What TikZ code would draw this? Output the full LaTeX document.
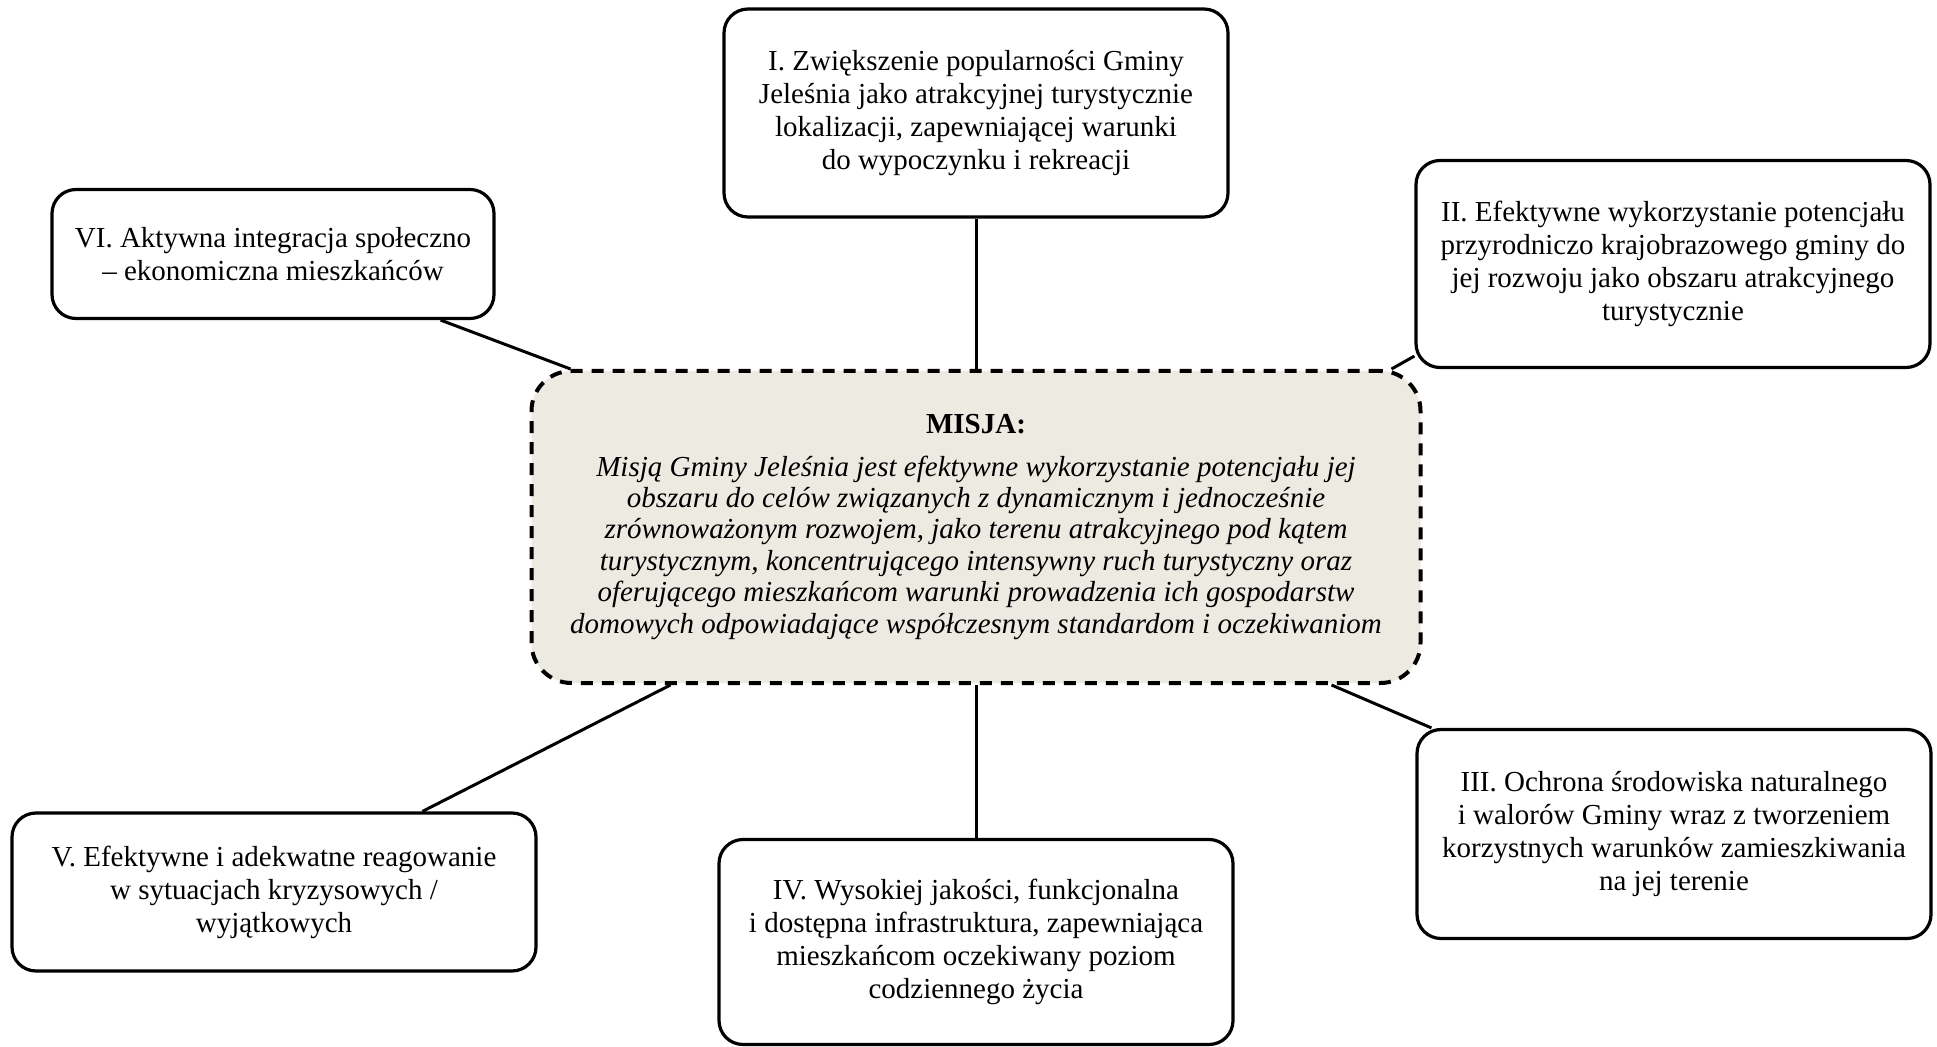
\documentclass[tikz,border=0pt]{standalone}
\usepackage{fontspec}
\setmainfont{Liberation Serif}
\usetikzlibrary{calc}
\definecolor{tlomisji}{RGB}{236,234,225}
\begin{document}
\begin{tikzpicture}[x=0.5pt,y=-0.5pt,
	cel/.style={draw,line width=1.6pt,rounded corners=12pt,fill=white,align=center,inner sep=0pt,font=\fontsize{14.5}{16.5}\selectfont},
	misja/.style={draw,line width=2pt,dash pattern=on 6pt off 4.5pt,rounded corners=20pt,fill=tlomisji,align=center,inner sep=0pt,font=\fontsize{14.5}{15.7}\selectfont},
	polacz/.style={line width=1.5pt}]
	\useasboundingbox (0,0) rectangle (1937,1047);
	% misja
	\node[misja,minimum width=444.5pt,minimum height=156pt] (misja) at (976,527)
		{\textbf{MISJA:}\\[5.5pt]
		\itshape Misją Gminy Jeleśnia jest efektywne wykorzystanie potencjału jej\\
		\itshape obszaru do celów związanych z dynamicznym i jednocześnie\\
		\itshape zrównoważonym rozwojem, jako terenu atrakcyjnego pod kątem\\
		\itshape turystycznym, koncentrującego intensywny ruch turystyczny oraz\\
		\itshape oferującego mieszkańcom warunki prowadzenia ich gospodarstw\\
		\itshape domowych odpowiadające współczesnym standardom i oczekiwaniom};
	% cele
	\node[cel,minimum width=252pt,minimum height=104pt] (cel1) at (976,113)
		{I. Zwiększenie popularności Gminy\\ Jeleśnia jako atrakcyjnej turystycznie\\ lokalizacji, zapewniającej warunki\\ do wypoczynku i rekreacji};
	\node[cel,minimum width=257pt,minimum height=103.5pt] (cel2) at (1673,264)
		{II. Efektywne wykorzystanie potencjału\\ przyrodniczo krajobrazowego gminy do\\ jej rozwoju jako obszaru atrakcyjnego\\ turystycznie};
	\node[cel,minimum width=257pt,minimum height=104.5pt] (cel3) at (1674,834)
		{III. Ochrona środowiska naturalnego\\ i walorów Gminy wraz z tworzeniem\\ korzystnych warunków zamieszkiwania\\ na jej terenie};
	\node[cel,minimum width=257pt,minimum height=102.5pt] (cel4) at (976,942)
		{IV. Wysokiej jakości, funkcjonalna\\ i dostępna infrastruktura, zapewniająca\\ mieszkańcom oczekiwany poziom\\ codziennego życia};
	\node[cel,minimum width=262pt,minimum height=79pt] (cel5) at (274,892)
		{V. Efektywne i adekwatne reagowanie\\ w sytuacjach kryzysowych /\\ wyjątkowych};
	\node[cel,minimum width=221pt,minimum height=64.5pt] (cel6) at (273,254)
		{VI. Aktywna integracja społeczno\\ – ekonomiczna mieszkańców};
	% polaczenia
	\draw[polacz] (cel1) -- (misja);
	\draw[polacz] (misja) -- (cel4);
	\draw[polacz] ($(cel2.south west)+(0,-13)$) -- ($(misja.north east)+(-31,0)$);
	\draw[polacz] ($(misja.south east)+(-91,0)$) -- ($(cel3.north west)+(16,0)$);
	\draw[polacz] ($(misja.south west)+(141,0)$) -- ($(cel5.north west)+(412,0)$);
	\draw[polacz] ($(cel6.south east)+(-55,0)$) -- ($(misja.north west)+(41,0)$);
\end{tikzpicture}
\end{document}
